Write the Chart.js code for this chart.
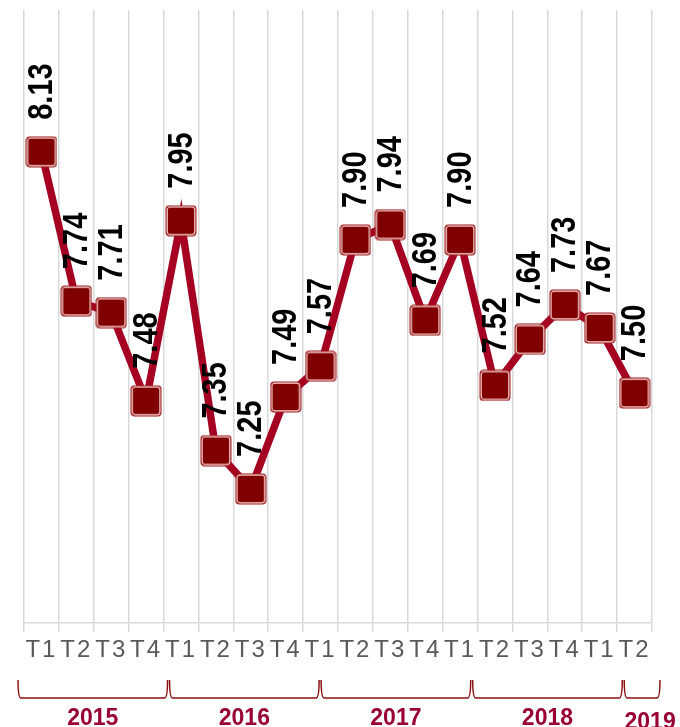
<!DOCTYPE html>
<html>
<head>
<meta charset="utf-8">
<script src="https://cdn.jsdelivr.net/npm/chart.js@4.4.1/dist/chart.umd.min.js"></script>
<style>
  html, body { margin: 0; padding: 0; background: #fff; }
  canvas { display: block; }
</style>
</head>
<body>
<canvas id="chart" width="680" height="727"></canvas>
<script>
const quarters = ['T1', 'T2', 'T3', 'T4', 'T1', 'T2', 'T3', 'T4', 'T1', 'T2', 'T3', 'T4', 'T1', 'T2', 'T3', 'T4', 'T1', 'T2'];
const rates = [8.13, 7.74, 7.71, 7.48, 7.95, 7.35, 7.25, 7.49, 7.57, 7.90, 7.94, 7.69, 7.90, 7.52, 7.64, 7.73, 7.67, 7.50];
const years = ['2015', '2016', '2017', '2018', '2019'];
const yearStart = [0, 4, 8, 12, 16];
const yearEnd = [4, 8, 12, 16, 18];

// square marker with light inner edge
function makeMarker() {
    const c = document.createElement('canvas');
    c.width = 32;
    c.height = 32;
    const g = c.getContext('2d');
    g.fillStyle = '#9e1a1a';
    g.beginPath();
    g.roundRect(0.5, 0.5, 31, 31, 4);
    g.fill();
    g.strokeStyle = '#f3d2d2';
    g.lineWidth = 1.2;
    g.beginPath();
    g.roundRect(2.2, 2.2, 27.6, 27.6, 3);
    g.stroke();
    g.fillStyle = '#800000';
    g.beginPath();
    g.roundRect(3, 3, 26, 26, 2);
    g.fill();
    return c;
}

const spacingPlugin = {
    id: 'spacing',
    beforeDraw(chart) { chart.ctx.letterSpacing = '2px'; },
    beforeDatasetsDraw(chart) { chart.ctx.letterSpacing = '0px'; }
};

const valueLabels = {
    id: 'valueLabels',
    afterDatasetsDraw(chart) {
        const ctx = chart.ctx;
        const meta = chart.getDatasetMeta(0);
        ctx.save();
        ctx.letterSpacing = '0px';
        ctx.font = 'bold 29px "Liberation Sans", Arial, sans-serif';
        ctx.fillStyle = '#000';
        ctx.textAlign = 'left';
        ctx.textBaseline = 'middle';
        meta.data.forEach((pt, i) => {
            ctx.save();
            ctx.translate(pt.x + 1, pt.y - 32);
            ctx.rotate(-Math.PI / 2);
            ctx.scale(1, 1.2); // narrow, tall digits like the original
            ctx.fillText(rates[i].toFixed(2), 0, 0);
            ctx.restore();
        });
        ctx.restore();
    }
};

const yearBrackets = {
    id: 'yearBrackets',
    afterDraw(chart) {
        const ctx = chart.ctx;
        const x = chart.scales.x;
        const left = chart.chartArea.left;
        const step = x.getPixelForValue(1) - x.getPixelForValue(0);
        // brackets in the original are a bit wider than the category cells
        const toBracket = k => Math.min(left - 7 + k * step * 1.086, chart.width - 19);
        const top = 680, bottom = 698;
        ctx.save();
        ctx.letterSpacing = '0px';
        ctx.strokeStyle = '#8b1010';
        ctx.lineWidth = 1.5;
        ctx.font = 'bold 23px "Liberation Sans", Arial, sans-serif';
        ctx.fillStyle = '#990033';
        ctx.textAlign = 'center';
        ctx.textBaseline = 'alphabetic';
        years.forEach((yr, i) => {
            const a = toBracket(yearStart[i]) + 1;
            const b = toBracket(yearEnd[i]) - 1;
            ctx.beginPath();
            ctx.moveTo(a, top);
            ctx.quadraticCurveTo(a, bottom, a + 3, bottom);
            ctx.lineTo(b - 3, bottom);
            ctx.quadraticCurveTo(b, bottom, b, top);
            ctx.stroke();
            const cx = i === years.length - 1 ? (a + b) / 2 + 8 : (a + b) / 2;
            ctx.fillText(yr, cx, i === years.length - 1 ? 729 : 725);
        });
        ctx.restore();
    }
};

new Chart(document.getElementById('chart'), {
    type: 'line',
    data: {
        labels: quarters,
        datasets: [{
            data: rates,
            borderColor: '#a50021',
            borderWidth: 7.5,
            tension: 0,
            pointStyle: makeMarker(),
            pointRadius: 16,
            pointHoverRadius: 16
        }]
    },
    options: {
        responsive: false,
        animation: false,
        layout: { autoPadding: false, padding: { left: 24, right: 28, top: 10, bottom: 0 } },
        plugins: {
            legend: { display: false },
            tooltip: { enabled: false }
        },
        scales: {
            x: {
                offset: true,
                grid: {
                    offset: true,
                    color: '#d9d9d9',
                    lineWidth: 1.5,
                    tickLength: 9,
                    drawTicks: true
                },
                border: { color: '#d9d9d9', width: 1.5 },
                ticks: {
                    color: '#595959',
                    font: { family: '"Liberation Sans", Arial, sans-serif', size: 24 },
                    padding: 4,
                    maxRotation: 0,
                    autoSkip: false
                },
                afterFit(scale) { scale.height = 104; }
            },
            y: {
                display: false,
                min: 6.9,
                max: 8.5
            }
        }
    },
    plugins: [spacingPlugin, valueLabels, yearBrackets]
});
</script>
</body>
</html>
